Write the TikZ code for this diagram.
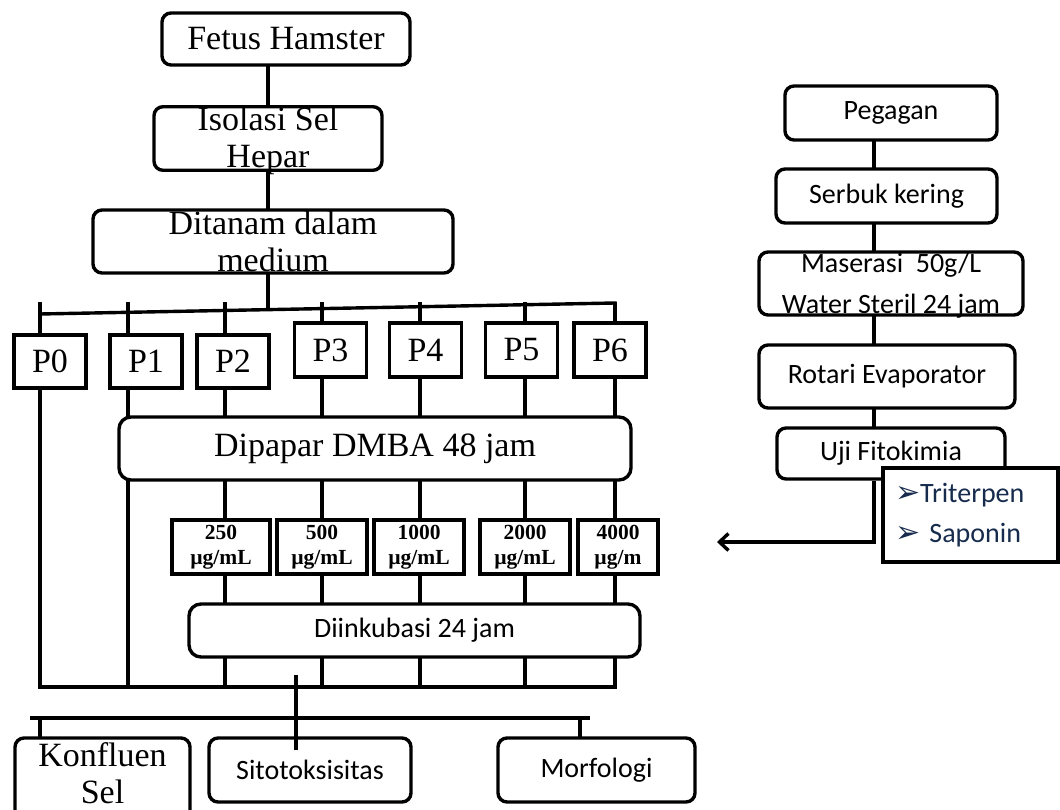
\documentclass[tikz,border=0pt]{standalone}
\usepackage{fontspec}
\setmainfont{Liberation Serif}
\newfontfamily\calibri{Carlito}
\newfontfamily\dejavu{DejaVu Sans}
\usetikzlibrary{arrows.meta}
\definecolor{navytext}{RGB}{23,43,77}

\begin{document}
\begin{tikzpicture}[
    x=1pt, y=-1pt,
    every node/.style={draw, line width=3.4pt, fill=white, inner sep=0pt, align=center},
    sbox/.style={rounded corners=9pt, font=\fontsize{34}{37}\selectfont},
    cbox/.style={rounded corners=9pt, font=\calibri\fontsize{28}{36}\selectfont},
    pbox/.style={minimum width=72pt, font=\fontsize{34}{37}\selectfont},
    dose/.style={minimum width=90pt, minimum height=54pt, font=\bfseries\fontsize{21.5}{25}\selectfont},
    line/.style={line width=3.4pt, line cap=rect},
    arrow/.style={-{Straight Barb[length=9pt, width=17pt]}, line width=3.4pt}
]
\useasboundingbox (0,0) rectangle (1060,810);

% Hamster column
\node[sbox, minimum width=248pt, minimum height=52pt] (fetus) at (286,39) {Fetus Hamster};
\node[sbox, text depth=3pt, minimum width=228pt, minimum height=63pt] (isolasi) at (268,138.5) {Isolasi Sel\\Hepar};
\node[sbox, minimum width=360pt, minimum height=63pt] (ditanam) at (273,241.5) {Ditanam dalam\\medium};

% Groups
\node[pbox, minimum height=53pt] (p0) at (50,361.5) {P0};
\node[pbox, minimum height=53pt] (p1) at (146,361.5) {P1};
\node[pbox, minimum height=53pt] (p2) at (233,361.5) {P2};
\node[pbox, minimum height=54pt] (p3) at (330.5,350) {P3};
\node[pbox, minimum height=54pt] (p4) at (425.5,350) {P4};
\node[pbox, minimum height=54pt] (p5) at (521.5,350) {P5};
\node[pbox, minimum height=54pt] (p6) at (610,350) {P6};

\node[sbox, rounded corners=12pt, minimum width=512pt, minimum height=63pt] (dipapar) at (375,448.5) {Dipapar DMBA 48 jam};

% Doses
\node[dose, minimum width=98pt] (k2) at (221,547) {250\\µg/mL};
\node[dose] (k3) at (322,547) {500\\µg/mL};
\node[dose] (k4) at (419,547) {1000\\µg/mL};
\node[dose] (k5) at (525,547) {2000\\µg/mL};
\node[dose, minimum width=80pt] (k6) at (618,547) {4000\\µg/m};

\node[cbox, rounded corners=12pt, minimum width=451pt, minimum height=53pt] (inkubasi) at (414.5,630.5) {Diinkubasi 24 jam};

% Results
\node[sbox, font=\fontsize{34}{37}\selectfont, text depth=14pt, minimum width=175pt, minimum height=84pt] (konfluen) at (102.5,780) {Konfluen\\Sel};
\node[cbox, minimum width=202pt, minimum height=64pt] (sito) at (310,770) {Sitotoksisitas};
\node[cbox, minimum width=197pt, minimum height=64pt] (morfo) at (596.5,770) {Morfologi};

% Pegagan column
\node[cbox, minimum width=212pt, minimum height=54pt] (pegagan) at (891,113) {Pegagan};
\node[cbox, minimum width=221pt, minimum height=54pt] (serbuk) at (886.5,196) {Serbuk kering};
\node[cbox, font=\calibri\fontsize{28}{41}\selectfont, text depth=1pt, minimum width=264pt, minimum height=63pt] (maserasi) at (891,283.5) {Maserasi\ \ 50g/L\\Water Steril 24 jam};
\node[cbox, minimum width=256pt, minimum height=63pt] (rotari) at (887,376.5) {Rotari Evaporator};
\node[cbox, minimum width=228pt, minimum height=51pt] (uji) at (891,453.5) {Uji Fitokimia};
\node[minimum height=94pt, text width=151pt, inner xsep=12pt, align=left, text=navytext,
      font=\calibri\fontsize{28}{40}\selectfont] (senyawa) at (970.5,515)
      {{\dejavu\fontsize{30}{40}\selectfont ➢}Triterpen\\{\dejavu\fontsize{30}{40}\selectfont ➢} Saponin};

% Coordinates
\coordinate (lx) at (268,0);
\coordinate (split) at (268,307);
\coordinate (barL) at (40,314);
\coordinate (barR) at (615,303);
\foreach \i/\x in {0/40,1/128,2/225,3/322,4/420,5/525,6/615}
    \coordinate (c\i) at (\x,304);
\coordinate (bot) at (0,687);
\coordinate (stemtop) at (296,677);
\coordinate (stemend) at (296,748);
\coordinate (sL) at (32,718);
\coordinate (sR) at (588,718);
\coordinate (mt) at (580,718);
\coordinate (rx) at (874,0);
\coordinate (tip) at (717,542);

% Lines
\draw[line] (fetus.south -| lx) -- (isolasi.north -| lx);
\draw[line] (isolasi.south -| lx) -- (ditanam.north -| lx);
\draw[line] (ditanam.south -| lx) -- (split);
\draw[line] (barL) -- (barR);
\foreach \i in {0,...,6}
    \draw[line] (c\i) -- (c\i |- p\i.north);
\draw[line] (c0 |- p0.south) -- (c0 |- bot);
\draw[line] (c1 |- p1.south) -- (c1 |- dipapar.north);
\draw[line] (c1 |- dipapar.south) -- (c1 |- bot);
\foreach \i in {2,...,6} {
    \draw[line] (c\i |- p\i.south) -- (c\i |- dipapar.north);
    \draw[line] (c\i |- dipapar.south) -- (c\i |- k\i.north);
    \draw[line] (c\i |- k\i.south) -- (c\i |- inkubasi.north);
    \draw[line] (c\i |- inkubasi.south) -- (c\i |- bot);
}
\draw[line] (c0 |- bot) -- (c6 |- bot);
\draw[line] (stemtop) -- (stemend);
\draw[line] (sL) -- (sR);
\draw[line] (c0 |- sL) -- (c0 |- konfluen.north);
\draw[line] (mt) -- (mt |- morfo.north);

\draw[line] (pegagan.south -| rx) -- (serbuk.north -| rx);
\draw[line] (serbuk.south -| rx) -- (maserasi.north -| rx);
\draw[line] (maserasi.south -| rx) -- (rotari.north -| rx);
\draw[line] (rotari.south -| rx) -- (uji.north -| rx);
\draw[arrow] (uji.south -| rx) |- (tip);

\end{tikzpicture}
\end{document}
